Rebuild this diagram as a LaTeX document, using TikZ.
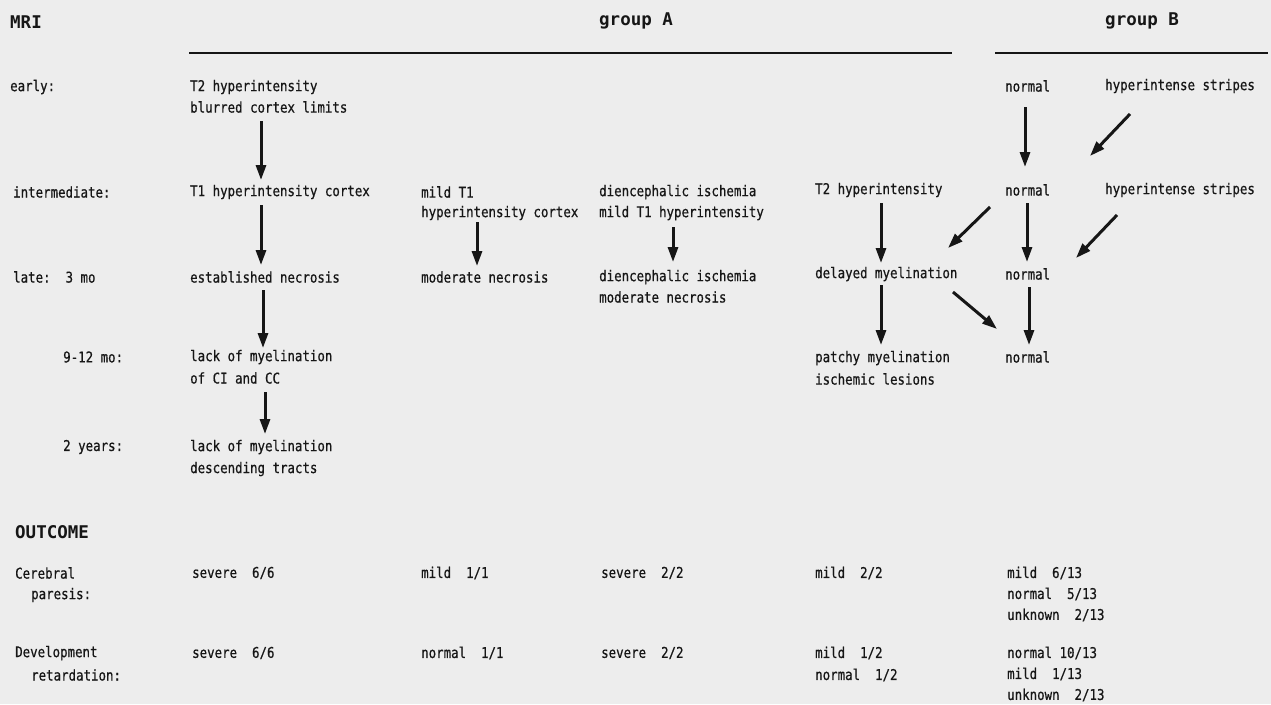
\documentclass[tikz,border=0pt]{standalone}
\usepackage{fontspec}
\usetikzlibrary{arrows.meta}
\newfontfamily\monofont[FakeStretch=0.84,FakeBold=0.6]{DejaVu Sans Mono}
\newfontfamily\headfont[FakeStretch=1.0]{DejaVu Sans Mono Bold}
\definecolor{bg}{RGB}{237,237,237}
\definecolor{ink}{RGB}{22,22,22}
\tikzset{
  txt/.style={anchor=west, inner sep=0pt, text=ink, font=\monofont\fontsize{14.8pt}{17pt}\selectfont},
  head/.style={anchor=west, inner sep=0pt, text=ink, font=\headfont\fontsize{17.5pt}{20pt}\selectfont},
  arr/.style={draw=ink, line width=3pt, -{Triangle[length=15pt,width=10pt]}},
  rule/.style={draw=ink, line width=2.4pt}
}
\begin{document}
\begin{tikzpicture}[x=1pt,y=-1pt]
\useasboundingbox (0,0) rectangle (1271,704);
\fill[bg] (0,0) rectangle (1271,704);
% headings
\node[head] (mri) at (10,22) {MRI};
\node[head] (ga) at (599,21) {group A};
\node[head] (gb) at (1105,21) {group B};
\coordinate (la0) at (189,53); \coordinate (la1) at (952,53);
\coordinate (lb0) at (995,53); \coordinate (lb1) at (1268,53);
\draw[rule] (la0) -- (la1);
\draw[rule] (lb0) -- (lb1);
% row labels
\node[txt] (early) at (10,87) {early:};
\node[txt] (inter) at (13,192) {intermediate:};
\node[txt] (late) at (13,277) {late:~~3 mo};
\node[txt] (nine) at (63,357) {9-12 mo:};
\node[txt] (two) at (63,447) {2 years:};
\node[head] (outc) at (15,532) {OUTCOME};
\node[txt] (cpa) at (15,573) {Cerebral};
\node[txt] (cpb) at (31,595) {paresis:};
\node[txt] (dra) at (15,653) {Development};
\node[txt] (drb) at (31,675) {retardation:};
% column 1
\node[txt] (e1a) at (190,87) {T2 hyperintensity};
\node[txt] (e1b) at (190,107) {blurred cortex limits};
\node[txt] (i1) at (190,192) {T1 hyperintensity cortex};
\node[txt] (l1) at (190,277) {established necrosis};
\node[txt] (m1a) at (190,357) {lack of myelination};
\node[txt] (m1b) at (190,378) {of CI and CC};
\node[txt] (y1a) at (190,447) {lack of myelination};
\node[txt] (y1b) at (190,469) {descending tracts};
\node[txt] (cp1) at (192,573) {severe~~6/6};
\node[txt] (dr1) at (192,653) {severe~~6/6};
% column 2
\node[txt] (i2a) at (421,192) {mild T1};
\node[txt] (i2b) at (421,213) {hyperintensity cortex};
\node[txt] (l2) at (421,277) {moderate necrosis};
\node[txt] (cp2) at (421,573) {mild~~1/1};
\node[txt] (dr2) at (421,653) {normal~~1/1};
% column 3
\node[txt] (i3a) at (599,192) {diencephalic ischemia};
\node[txt] (i3b) at (599,213) {mild T1 hyperintensity};
\node[txt] (l3a) at (599,277) {diencephalic ischemia};
\node[txt] (l3b) at (599,297) {moderate necrosis};
\node[txt] (cp3) at (601,573) {severe~~2/2};
\node[txt] (dr3) at (601,653) {severe~~2/2};
% column 4
\node[txt] (i4) at (815,190) {T2 hyperintensity};
\node[txt] (l4) at (815,274) {delayed myelination};
\node[txt] (m4a) at (815,358) {patchy myelination};
\node[txt] (m4b) at (815,379) {ischemic lesions};
\node[txt] (cp4) at (815,573) {mild~~2/2};
\node[txt] (dr4a) at (815,653) {mild~~1/2};
\node[txt] (dr4b) at (815,675) {normal~~1/2};
% column 5
\node[txt] (e5) at (1005,86) {normal};
\node[txt] (i5) at (1005,190) {normal};
\node[txt] (l5) at (1005,274) {normal};
\node[txt] (m5) at (1005,357) {normal};
\node[txt] (cp5a) at (1007,573) {mild~~6/13};
\node[txt] (cp5b) at (1007,594) {normal~~5/13};
\node[txt] (cp5c) at (1007,615) {unknown~~2/13};
\node[txt] (dr5a) at (1007,653) {normal 10/13};
\node[txt] (dr5b) at (1007,674) {mild~~1/13};
\node[txt] (dr5c) at (1007,695) {unknown~~2/13};
% column 6
\node[txt] (e6) at (1105,86) {hyperintense stripes};
\node[txt] (i6) at (1105,190) {hyperintense stripes};
% arrows
\draw[arr] ([shift={(71,14)}]e1b.west) -- ([shift={(71,-12)}]i1.west);
\draw[arr] ([shift={(71,13)}]i1.west) -- ([shift={(71,-12)}]l1.west);
\draw[arr] ([shift={(73,13)}]l1.west) -- ([shift={(73,-9)}]m1a.west);
\draw[arr] ([shift={(75,14)}]m1b.west) -- ([shift={(75,-13)}]y1a.west);
\draw[arr] ([shift={(56,9)}]i2b.west) -- ([shift={(56,-11)}]l2.west);
\draw[arr] ([shift={(74,14)}]i3b.west) -- ([shift={(74,-15)}]l3a.west);
\draw[arr] ([shift={(66,13)}]i4.west) -- ([shift={(66,-11)}]l4.west);
\draw[arr] ([shift={(66,11)}]l4.west) -- ([shift={(66,-13)}]m4a.west);
\draw[arr] ([shift={(20,21)}]e5.west) -- ([shift={(20,-23)}]i5.west);
\draw[arr] ([shift={(22,13)}]i5.west) -- ([shift={(22,-12)}]l5.west);
\draw[arr] ([shift={(24,13)}]l5.west) -- ([shift={(24,-12)}]m5.west);
\draw[arr] ([shift={(25,28)}]e6.west) -- ([shift={(85,-34)}]i5.west);
\draw[arr] ([shift={(12,25)}]i6.west) -- ([shift={(71,-16)}]l5.west);
\draw[arr] ([shift={(-15,17)}]i5.west) -- ([shift={(133,-26)}]l4.west);
\draw[arr] ([shift={(138,18)}]l4.west) -- ([shift={(-8,-28)}]m5.west);
\end{tikzpicture}
\end{document}
